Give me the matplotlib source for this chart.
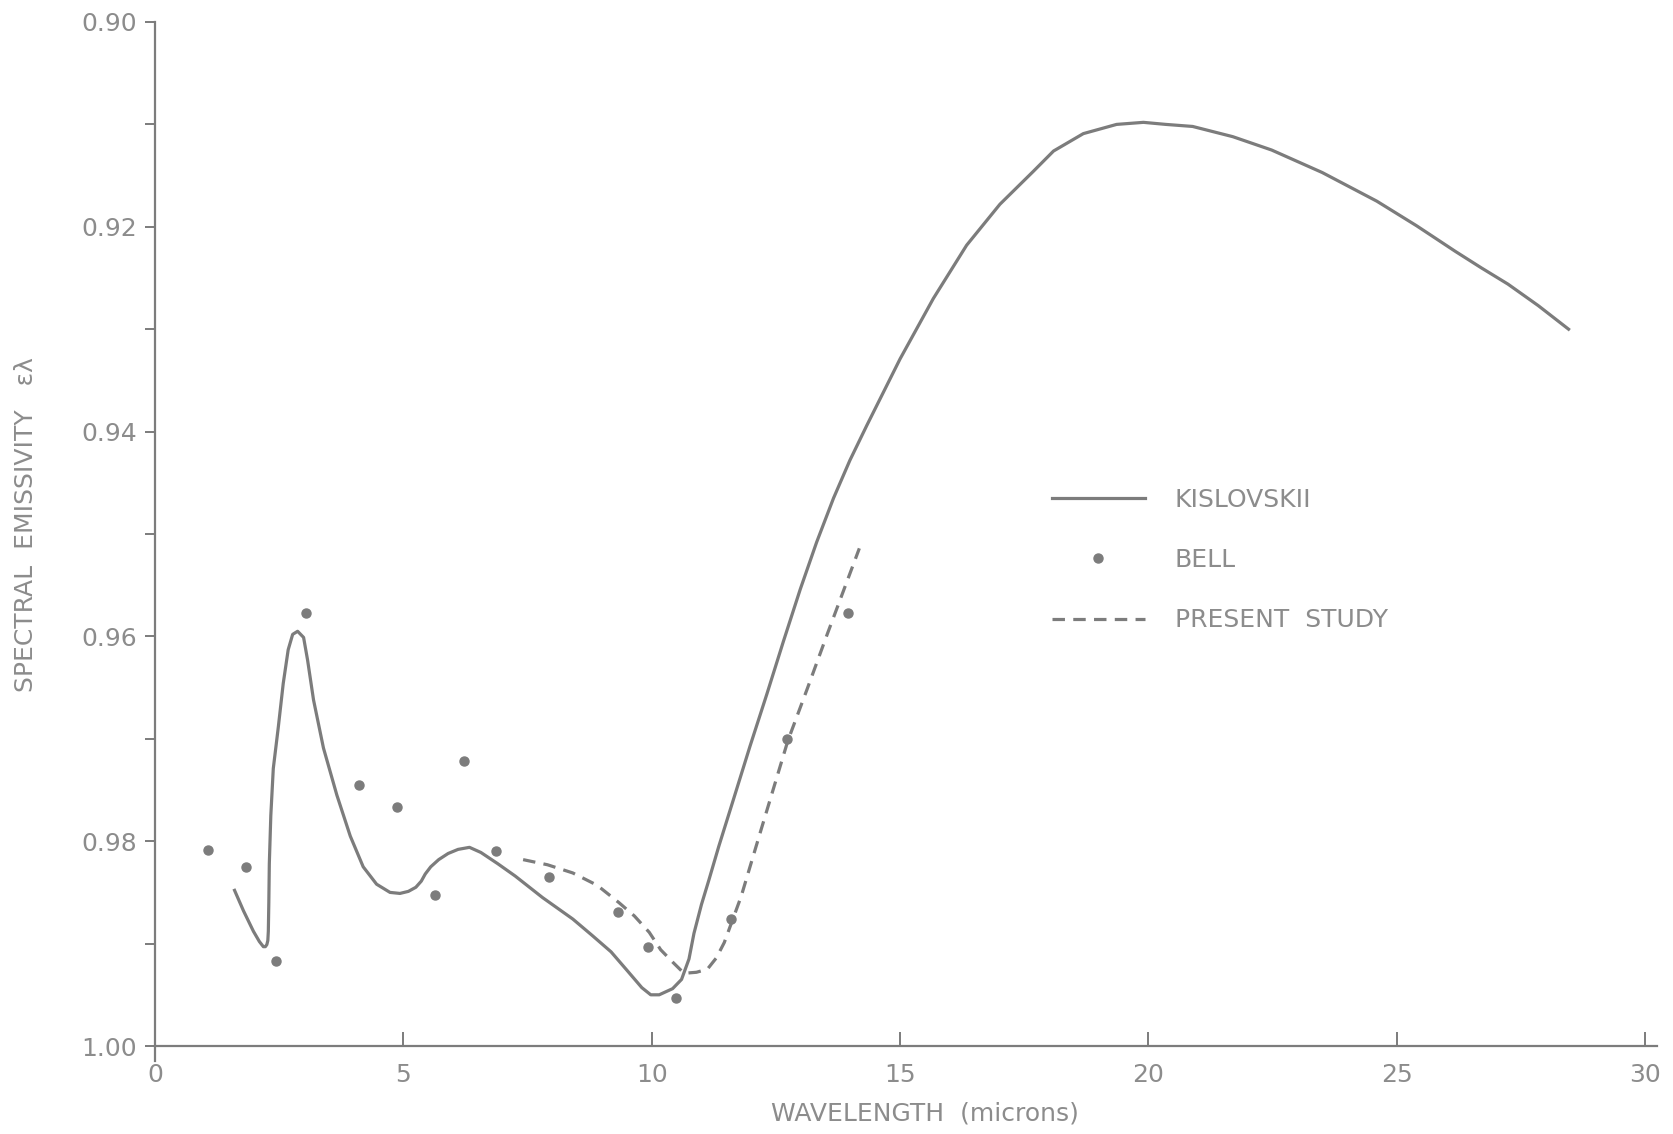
import matplotlib.pyplot as plt
from matplotlib.ticker import MultipleLocator

# Kislovskii curve (wavelength in microns, spectral emissivity)
kis_wl = [1.60, 1.78, 1.98, 2.10, 2.18, 2.22, 2.25, 2.27, 2.28, 2.29, 2.30, 2.33,
          2.38, 2.48, 2.58, 2.68, 2.77, 2.87, 2.99, 3.07, 3.19, 3.39, 3.66, 3.93,
          4.19, 4.46, 4.73, 4.93, 5.10, 5.25, 5.36, 5.44, 5.55, 5.71, 5.90, 6.10,
          6.33, 6.56, 6.90, 7.25, 7.80, 8.41, 8.80, 9.18, 9.50, 9.80, 9.98, 10.15,
          10.42, 10.60, 10.75, 10.85, 11.00, 11.15, 11.35, 11.64, 11.98, 12.32,
          12.65, 12.99, 13.32, 13.66, 13.99, 14.33, 15.00, 15.67, 16.34, 17.01,
          17.68, 18.09, 18.69, 19.36, 19.90, 20.35, 20.89, 21.70, 22.48, 23.50,
          24.60, 25.40, 26.18, 26.70, 27.24, 27.85, 28.46]
kis_em = [0.9848, 0.9868, 0.9888, 0.9898, 0.9903, 0.9903, 0.9901, 0.9897, 0.9888,
          0.9860, 0.9822, 0.9775, 0.9729, 0.9689, 0.9646, 0.9613, 0.9598, 0.9595,
          0.9601, 0.9623, 0.9662, 0.9709, 0.9755, 0.9795, 0.9825, 0.9842, 0.9850,
          0.9851, 0.9849, 0.9845, 0.9839, 0.9832, 0.9825, 0.9818, 0.9812, 0.9808,
          0.9806, 0.9811, 0.9822, 0.9834, 0.9855, 0.9876, 0.9892, 0.9908, 0.9926,
          0.9943, 0.9950, 0.9950, 0.9944, 0.9935, 0.9915, 0.9890, 0.9862, 0.9838,
          0.9805, 0.9760, 0.9707, 0.9656, 0.9605, 0.9554, 0.9508, 0.9465, 0.9428,
          0.9394, 0.9329, 0.9270, 0.9218, 0.9178, 0.9146, 0.9126, 0.9109, 0.9100,
          0.9098, 0.9100, 0.9102, 0.9112, 0.9125, 0.9147, 0.9175, 0.9199, 0.9224,
          0.9240, 0.9256, 0.9277, 0.9300]

# Bell measurements
bell_wl = [1.06, 1.84, 2.44, 3.04, 4.10, 4.88, 5.64, 6.22, 6.87, 7.94, 9.32,
           9.92, 10.49, 11.60, 12.73, 13.95]
bell_em = [0.9809, 0.9825, 0.9917, 0.9577, 0.9745, 0.9767, 0.9853, 0.9722,
           0.9810, 0.9835, 0.9869, 0.9903, 0.9953, 0.9876, 0.9700, 0.9577]

# present study
ps_wl = [7.41, 7.90, 8.41, 8.90, 9.34, 9.65, 9.95, 10.18, 10.42, 10.65, 10.90,
         11.12, 11.30, 11.46, 11.80, 12.20, 12.74, 13.14, 13.54, 13.81, 14.18]
ps_em = [0.9818, 0.9823, 0.9831, 0.9843, 0.9860, 0.9873, 0.9889, 0.9906, 0.9918,
         0.9929, 0.9928, 0.9925, 0.9914, 0.9899, 0.9854, 0.9789, 0.9702, 0.9650,
         0.9597, 0.9562, 0.9514]

ink = '#7c7c7c'
txt = '#8c8c8c'
plt.rcParams['font.family'] = ['DejaVu Sans']

fig = plt.figure(figsize=(16.73, 11.34), dpi=100)
ax = fig.add_axes([0.0927, 0.0776, 0.8906, 0.9030])

ax.plot(kis_wl, kis_em, color=ink, lw=2.3, solid_joinstyle='round',
        label='KISLOVSKII')
ax.plot(bell_wl, bell_em, 'o', color=ink, ms=6.5, label='BELL')
ax.plot(ps_wl, ps_em, color=ink, lw=2.3, dashes=(3.9, 2.6),
        label='PRESENT  STUDY')

ax.set_xlim(0, 30)
ax.set_ylim(1.00, 0.90)
ax.xaxis.set_major_locator(MultipleLocator(5))
ax.yaxis.set_major_locator(MultipleLocator(0.02))
ax.yaxis.set_minor_locator(MultipleLocator(0.01))
ax.yaxis.set_major_formatter(lambda v, p: '%.2f' % v)

for side in ('top', 'right'):
    ax.spines[side].set_visible(False)
for side in ('left', 'bottom'):
    ax.spines[side].set_color(ink)
    ax.spines[side].set_linewidth(1.6)
ax.spines['left'].set_bounds(0.90, 1.0015)
ax.spines['bottom'].set_bounds(0, 30.25)

ax.tick_params(axis='y', direction='out', length=7, width=1.4, color=ink,
               labelcolor=txt, labelsize=18, pad=6, which='both')
ax.tick_params(axis='x', direction='in', length=10, width=1.4, color=ink,
               labelcolor=txt, labelsize=18, pad=12)

ax.set_xlabel('WAVELENGTH  (microns)', color=txt, fontsize=18)
ax.xaxis.set_label_coords(0.517, -0.054)
ax.set_ylabel('SPECTRAL  EMISSIVITY   ελ', color=txt, fontsize=18)
ax.yaxis.set_label_coords(-0.0786, 0.509)

leg = ax.legend(loc='upper left', bbox_to_anchor=(0.587, 0.567), frameon=False,
                fontsize=18, handlelength=3.7, handletextpad=1.2,
                labelspacing=1.45, numpoints=1)
for t in leg.get_texts():
    t.set_color(txt)

fig.savefig('out.png', dpi=100, facecolor='white')
